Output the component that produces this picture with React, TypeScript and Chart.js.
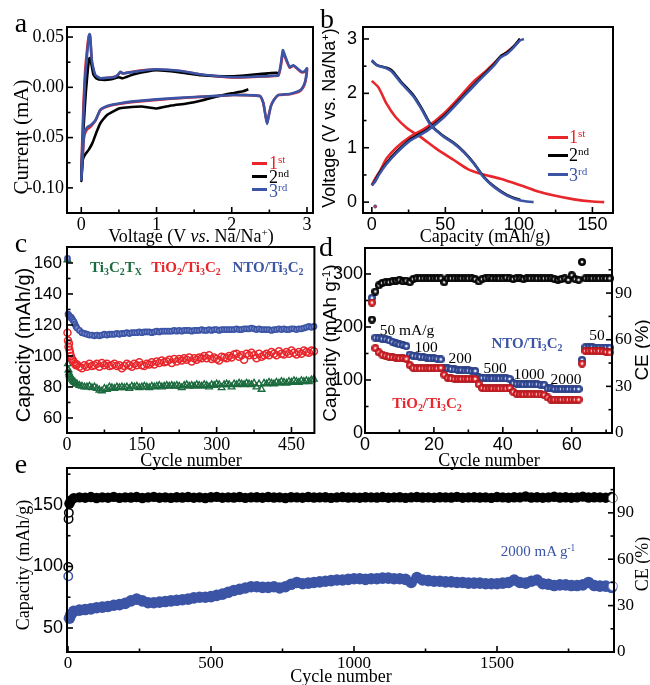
import React, { useEffect, useRef } from 'react';
import { Chart, registerables } from 'chart.js';
Chart.register(...registerables);

const SERIF = '"Liberation Serif", "Times New Roman", Times, serif';
const SANS = '"Liberation Sans", Arial, Helvetica, sans-serif';
const RED = '#e8262b';
const BLUE = '#3b54a5';
const BLACK = '#000000';
const GREEN = '#1b6b3e';

// ---------- panel a : CV ----------
const A_V = [0, 0.01, 0.03, 0.05, 0.08, 0.10, 0.11, 0.12, 0.14, 0.17, 0.19, 0.25, 0.35, 0.43, 0.48, 0.52, 0.55, 0.58, 0.7, 0.85, 1.0, 1.15, 1.3, 1.45, 1.58, 1.75, 1.9, 2.02, 2.2, 2.35, 2.47, 2.56, 2.62, 2.65, 2.68, 2.71, 2.73, 2.77, 2.82, 2.87, 2.93, 2.97, 3.0, 2.98, 2.95, 2.91, 2.85, 2.77, 2.7, 2.62, 2.56, 2.52, 2.49, 2.47, 2.45, 2.42, 2.38, 2.3, 2.2, 2.02, 1.8, 1.58, 1.3, 1.0, 0.7, 0.5, 0.39, 0.3, 0.25, 0.19, 0.15, 0.12, 0.09, 0.066, 0.04, 0.03, 0.01, 0];
const A3_I = [-0.093, -0.065, -0.025, 0.008, 0.035, 0.050, 0.053, 0.050, 0.027, 0.016, 0.012, 0.009, 0.0095, 0.010, 0.012, 0.0155, 0.014, 0.014, 0.0155, 0.017, 0.018, 0.0175, 0.0165, 0.0148, 0.013, 0.0115, 0.0105, 0.010, 0.0102, 0.0108, 0.011, 0.0115, 0.012, 0.022, 0.037, 0.031, 0.027, 0.020, 0.022, 0.019, 0.0155, 0.016, 0.019, 0.007, 0.001, -0.003, -0.005, -0.0066, -0.007, -0.0076, -0.0126, -0.019, -0.029, -0.0364, -0.029, -0.016, -0.009, -0.008, -0.0078, -0.0076, -0.0085, -0.0093, -0.0105, -0.012, -0.014, -0.016, -0.0175, -0.02, -0.0225, -0.0325, -0.036, -0.038, -0.039, -0.041, -0.046, -0.053, -0.079, -0.093];
const A1_I = [-0.093, -0.06, -0.015, 0.015, 0.04, 0.051, 0.052, 0.048, 0.025, 0.015, 0.011, 0.0088, 0.0095, 0.0102, 0.0118, 0.015, 0.0138, 0.0142, 0.0158, 0.0172, 0.0178, 0.0172, 0.0162, 0.0145, 0.0128, 0.0113, 0.0104, 0.0099, 0.0101, 0.0106, 0.0109, 0.0113, 0.0118, 0.02, 0.034, 0.03, 0.026, 0.0195, 0.0215, 0.0185, 0.015, 0.0155, 0.018, 0.006, 0.0, -0.0035, -0.0055, -0.0068, -0.0072, -0.0078, -0.0125, -0.0185, -0.0285, -0.0355, -0.0285, -0.0155, -0.0088, -0.008, -0.0078, -0.0077, -0.0087, -0.0095, -0.0108, -0.0125, -0.0145, -0.0165, -0.018, -0.0205, -0.023, -0.033, -0.037, -0.0395, -0.041, -0.043, -0.048, -0.055, -0.08, -0.093];
const A2_V = [2.22, 2.15, 2.0, 1.8, 1.6, 1.4, 1.2, 1.0, 0.9, 0.8, 0.6, 0.5, 0.4, 0.35, 0.3, 0.25, 0.2, 0.15, 0.1, 0.05, 0.02, 0.0, 0.01, 0.03, 0.06, 0.09, 0.11, 0.13, 0.16, 0.2, 0.28, 0.4, 0.5, 0.55, 0.7, 1.0, 1.3, 1.6, 2.0, 2.2, 2.4, 2.5, 2.6, 2.63];
const A2_I = [-0.002, -0.004, -0.006, -0.009, -0.013, -0.016, -0.018, -0.021, -0.020, -0.019, -0.020, -0.021, -0.025, -0.027, -0.031, -0.036, -0.045, -0.055, -0.062, -0.067, -0.072, -0.093, -0.07, -0.04, -0.005, 0.02, 0.029, 0.025, 0.013, 0.009, 0.0075, 0.008, 0.01, 0.009, 0.013, 0.017, 0.015, 0.012, 0.011, 0.012, 0.0135, 0.014, 0.0145, 0.013];

// ---------- panel b : charge / discharge ----------
const B1D_X = [0, 4.5, 10, 16, 24, 33, 44, 56, 65, 74, 87.5, 101, 112.5, 124, 137.5, 150, 158];
const B1D_Y = [2.23, 2.11, 1.81, 1.57, 1.36, 1.2, 0.98, 0.77, 0.61, 0.52, 0.43, 0.31, 0.2, 0.12, 0.05, 0.01, 0.0];
const B1C_X = [0, 2, 5.7, 10, 17, 26, 37.5, 49, 60, 69, 78.4, 87.5, 96.6, 101];
const B1C_Y = [0.31, 0.42, 0.58, 0.8, 1.01, 1.2, 1.38, 1.63, 1.94, 2.21, 2.43, 2.67, 2.86, 3.0];
const B2C_X = [0, 2, 5, 10, 17, 26, 37.5, 49, 60, 71.6, 83, 87.5, 92, 96.6, 100.7];
const B2C_Y = [0.31, 0.38, 0.53, 0.72, 0.93, 1.15, 1.33, 1.58, 1.89, 2.22, 2.53, 2.68, 2.75, 2.87, 3.0];
const B3C_X = [0, 2, 5, 10, 17, 26, 37.5, 49, 60, 71.6, 83, 87.5, 92, 96.6, 100.7, 103.4];
const B3C_Y = [0.31, 0.37, 0.51, 0.7, 0.91, 1.13, 1.31, 1.56, 1.87, 2.2, 2.51, 2.66, 2.73, 2.85, 2.97, 3.0];
const B2D_X = [0, 3.4, 10, 13.6, 19.3, 28.4, 34, 40.5, 49, 55.7, 62.5, 69.3, 76, 83, 92, 101];
const B2D_Y = [2.6, 2.52, 2.47, 2.42, 2.23, 1.96, 1.72, 1.41, 1.21, 1.09, 0.93, 0.72, 0.47, 0.29, 0.13, 0.04];
const B3D_X = [0, 3.4, 10, 13.6, 19.3, 28.4, 34, 40.5, 49, 55.7, 62.5, 69.3, 76, 83, 92, 101, 110];
const B3D_Y = [2.61, 2.52, 2.46, 2.4, 2.21, 1.94, 1.7, 1.4, 1.2, 1.08, 0.92, 0.71, 0.46, 0.28, 0.12, 0.03, 0.0];

// ---------- panel c : cycling at one rate ----------
const C_X = [1, 2, 3, 4, 5, 6, 8, 10, 12, 14, 16, 18, 20, 25, 30, 35, 40, 45, 50, 55, 60, 65, 70, 75, 80, 85, 90, 95, 100, 105, 110, 115, 120, 125, 130, 135, 140, 145, 150, 155, 160, 165, 170, 175, 180, 185, 190, 195, 200, 205, 210, 215, 220, 225, 230, 235, 240, 245, 250, 255, 260, 265, 270, 275, 280, 285, 290, 295, 300, 305, 310, 315, 320, 325, 330, 335, 340, 345, 350, 355, 360, 365, 370, 375, 380, 385, 390, 395, 400, 405, 410, 415, 420, 425, 430, 435, 440, 445, 450, 455, 460, 465, 470, 475, 480, 485, 490, 495];
const C_NTO = [163, 127, 126.5, 126, 125.5, 125, 125, 124, 123, 122, 120.5, 119, 118,
  116.5, 115, 114.5, 114, 113.5, 113.5, 113, 113.5, 113, 113.5, 114, 113.5, 114, 114, 114, 114.5,
  114, 114.5, 114.5, 115, 114.5, 115, 115, 115, 115.5, 115, 115.5, 115.5, 115.5, 115, 115.5, 116, 115.5, 116, 116, 116,
  116, 116, 116.5, 116, 116.5, 116, 116.5, 116.5, 116.5, 116, 116.5, 116.5, 116.5, 117, 116.5, 116.5, 117, 116.5, 117, 117,
  116.5, 117, 117, 117, 117, 117, 117, 117.5, 117, 117, 117.5, 117.5, 117.5, 118, 117.5, 117, 117.5, 117, 117, 117,
  117, 116.5, 117, 117, 117.5, 117, 117.5, 117, 117, 117.5, 117.5, 117, 117.5, 117.5, 118, 118.5, 119, 118.5, 119];
const C_TIO = [115, 110, 106, 108, 104, 102, 100, 98, 97, 96, 95, 94, 94.5,
  93, 92, 94, 93, 95, 93.5, 94, 95, 93, 95.5, 94, 95, 93.5, 94, 95, 93.5,
  94, 92, 93.5, 95, 94, 93, 95, 94, 96, 94, 93.5, 95, 94.5, 96, 94.5, 96.5, 95.5, 97, 96, 96.5,
  97.5, 95.5, 98, 96.5, 98, 97, 98.5, 97.5, 99, 96.5, 98.5, 97.5, 99, 98.5, 100, 98.5, 100.5, 98, 99, 98,
  97, 99.5, 99, 98.5, 100, 99, 101, 101.5, 99.5, 100.5, 97.5, 101.5, 100.5, 102, 100.5, 98.5, 101.5, 99.5, 100.5, 101.5,
  100.5, 102.5, 101.5, 100.5, 103, 101.5, 101, 102.5, 101.5, 103.5, 102, 101, 102.5, 101.5, 103.5, 102.5, 102, 103.5, 103];
const C_TI3C2 = [162, 95, 91, 89, 88, 87, 86, 85, 84, 83.5, 83, 82, 82,
  81, 80.5, 80, 80, 80.5, 79.5, 80, 79, 78, 77.5, 79, 78.5, 80, 79.5, 79, 80,
  79.5, 80, 79.5, 80, 79, 80.5, 80, 80.5, 79.5, 80, 80.5, 80, 79.5, 80.5, 80, 80.5, 81, 80, 80.5, 81,
  80.5, 81, 80.5, 81, 80.5, 79.5, 81, 81.5, 80.5, 81, 80.5, 81.5, 81, 80.5, 81.5, 81, 80, 81.5, 81, 82,
  81.5, 79.5, 81.5, 82, 81.5, 80, 82, 81.5, 82.5, 82, 81.5, 82.5, 82, 81.5, 82.5, 80, 82, 78.5, 82.5, 82,
  83, 82.5, 82, 83, 82.5, 83.5, 83, 82.5, 83.5, 83, 84, 83.5, 83, 84, 83.5, 84, 83.5, 84.5, 85];

// ---------- panel d : rate capability ----------
const D_X = [2, 3, 4, 5, 6, 7, 8, 9, 10, 11, 12, 13, 14, 15, 16, 17, 18, 19, 20, 21, 22, 23, 24, 25, 26, 27, 28, 29, 30, 31, 32, 33, 34, 35, 36, 37, 38, 39, 40, 41, 42, 43, 44, 45, 46, 47, 48, 49, 50, 51, 52, 53, 54, 55, 56, 57, 58, 59, 60, 61, 62, 63, 64, 65, 66, 67, 68, 69, 70, 71];
const D_NTO = [255, 180, 179, 178, 177, 175, 172, 169, 167, 166, 164, 148, 146, 145, 144, 143, 142, 141, 141, 140, 139, 123, 122, 121, 120, 119, 119, 118, 118, 117, 117, 105, 104, 104, 103, 103, 103, 103, 103, 103, 102, 94, 93, 93, 92, 92, 92, 92, 92, 91, 91, 84, 84, 83, 83, 83, 83, 83, 83, 83, 83, 138, 162, 162, 162, 161, 161, 161, 161, 161];
const D_TIO = [246, 160, 152, 148, 146, 144, 143, 142, 141, 141, 140, 128, 123, 122, 122, 122, 122, 122, 122, 122, 123, 110, 104, 103, 102, 102, 102, 102, 102, 102, 102, 92, 85, 84, 84, 84, 84, 84, 84, 84, 85, 78, 74, 73, 73, 73, 73, 73, 73, 73, 72, 67, 63, 63, 63, 63, 63, 63, 63, 63, 63, 131, 155, 155, 155, 155, 155, 154, 153, 152];
const D_CE = [73, 91, 95, 96.5, 97, 97, 97.5, 98, 98.5, 97.5, 98, 97, 99, 99.5, 99.5, 99.5, 99.5, 99.5, 99.5, 99.5, 99.5, 97, 99.5, 99.5, 99.5, 99.5, 99.5, 99.5, 99.5, 99.5, 99, 97.5, 99, 99.5, 100, 99.5, 99.5, 99.5, 99.5, 100, 99.5, 99, 99.5, 99.5, 99, 99.5, 99.5, 99.5, 99.5, 99.5, 99.5, 99.5, 99.5, 99, 98.5, 99, 99.5, 98.5, 101.5, 99, 98.5, 110, 99.5, 99.5, 99.5, 99.5, 99.5, 99.5, 99.5, 99.5];
const D_RATE_LABELS = ['50 mA/g', '100', '200', '500', '1000', '2000', '50'];

// ---------- panel e : long cycling ----------
const E_X = [5, 10, 20, 40, 60, 80, 100, 120, 140, 160, 180, 200, 220, 240, 260, 280, 300, 320, 340, 360, 380, 400, 420, 440, 460, 480, 500, 520, 540, 560, 580, 600, 620, 640, 660, 680, 700, 720, 740, 760, 780, 800, 820, 840, 860, 880, 900, 920, 940, 960, 980, 1000, 1020, 1040, 1060, 1080, 1100, 1120, 1140, 1160, 1180, 1200, 1220, 1240, 1260, 1280, 1300, 1320, 1340, 1360, 1380, 1400, 1420, 1440, 1460, 1480, 1500, 1520, 1540, 1560, 1580, 1600, 1620, 1640, 1660, 1680, 1700, 1720, 1740, 1760, 1780, 1800, 1820, 1840, 1860, 1880, 1900];
const E_CAP = [58, 61,
  63.5, 64.5, 65, 65.5, 66.5, 67, 67.5, 68.5, 69, 70,
  72, 73.5, 72, 70.5, 70.5, 71, 71.5, 72, 72.5, 73,
  73.5, 74.5, 75, 75, 75.5, 76.5, 77.5, 79, 80.5, 81.5,
  82.5, 83.5, 83.5, 83, 83, 83.5, 82.5, 83.5, 85.5, 87,
  86, 86.5, 87, 87.5, 88, 88.5, 89, 89, 89.5, 90,
  90, 89.5, 90, 90, 90.5, 90.5, 90, 90, 89.5, 87,
  91, 89, 88.5, 88, 88, 87.5, 87.5, 87, 87, 86.5,
  86.5, 86.5, 86, 86, 86, 86.5, 87, 89, 87, 86.5,
  88, 89, 86, 85.5, 84.5, 85, 85, 84.5, 84.5, 85,
  87, 84.5, 84, 84, 83];
const E_CE = [96, 98,
  99.5, 100, 99.8, 100.2, 99.6, 100, 99.8, 100.3, 99.7, 100,
  99.9, 100.2, 99.6, 100, 100.3, 99.8, 100, 99.7, 100.1, 99.9,
  100.2, 99.8, 100, 99.6, 100.1, 100.3, 99.8, 100, 99.9, 100.2,
  99.7, 100, 100.1, 99.8, 100.2, 99.9, 100, 99.6, 100.1, 100,
  99.8, 100.2, 99.9, 100, 100.1, 99.7, 100, 100.2, 99.9, 100,
  99.8, 100.1, 100, 99.9, 100.2, 99.8, 100, 100.1, 99.7, 100,
  100.2, 99.9, 100, 99.8, 100.1, 100, 99.9, 100.3, 99.8, 100,
  100.1, 99.9, 100, 99.7, 100.2, 100, 99.8, 100.1, 100, 100.6,
  99.9, 100.1, 99.8, 100, 100.4, 99.9, 100.1, 99.8, 100, 100.5,
  99.9, 100.1, 100, 99.8, 100.2];
const E_FIRST_CAP_X = [1];
const E_FIRST_CAP = [92];
const E_FIRST_CE_X = [1, 2, 3];
const E_FIRST_CE = [55, 86, 90];
const E_LAST_X = [1905];
const E_LAST_CAP = [84];
const E_LAST_CE = [99.5];

// ---------- helpers ----------
type Ax = {
  id: string; pos: 'left' | 'right' | 'bottom'; min: number; max: number;
  major: number[]; labels: string[]; minor: number[]; family: string; size: number; thick: number; pad?: number;
};

const zip = (xs: number[], ys: number[]) => xs.map((x, i) => ({ x, y: ys[i] }));

function framePlugin(axes: Ax[]) {
  return {
    id: 'frame',
    afterDatasetsDraw(chart: any) {
      const { ctx, chartArea: a } = chart;
      ctx.save();
      ctx.strokeStyle = '#000';
      ctx.lineWidth = 2;
      ctx.strokeRect(a.left, a.top, a.right - a.left, a.bottom - a.top);
      ctx.lineWidth = 1.6;
      for (const ax of axes) {
        const s = chart.scales[ax.id];
        const draw = (v: number, len: number) => {
          const p = s.getPixelForValue(v);
          ctx.beginPath();
          if (ax.pos === 'bottom') { ctx.moveTo(p, a.bottom); ctx.lineTo(p, a.bottom - len); }
          else if (ax.pos === 'left') { ctx.moveTo(a.left, p); ctx.lineTo(a.left + len, p); }
          else { ctx.moveTo(a.right, p); ctx.lineTo(a.right - len, p); }
          ctx.stroke();
        };
        ax.major.forEach((v) => draw(v, 6));
        ax.minor.forEach((v) => draw(v, 3.5));
      }
      ctx.restore();
    },
  };
}

function build(canvas: HTMLCanvasElement, pad: any, axes: Ax[], datasets: any[]) {
  const scales: any = {};
  for (const ax of axes) {
    scales[ax.id] = {
      type: 'linear', position: ax.pos, min: ax.min, max: ax.max,
      grid: { display: false, drawTicks: false },
      border: { display: false },
      ticks: {
        color: '#000', font: { family: ax.family, size: ax.size }, padding: ax.pad ?? 3,
        autoSkip: false, maxRotation: 0, minRotation: 0,
        callback: (_v: any, i: number) => ax.labels[i],
      },
      afterBuildTicks: (s: any) => { s.ticks = ax.major.map((v) => ({ value: v })); },
      afterFit: (s: any) => { if (ax.pos === 'bottom') s.height = ax.thick; else s.width = ax.thick; },
    };
  }
  return new Chart(canvas, {
    type: 'scatter',
    data: { datasets },
    options: {
      responsive: false, animation: false, devicePixelRatio: 1, events: [],
      layout: { padding: pad },
      plugins: { legend: { display: false }, tooltip: { enabled: false } },
      scales,
    } as any,
    plugins: [framePlugin(axes) as any],
  });
}

const lineDs = (xs: number[], ys: number[], color: string, order: number, tension = 0.2, width = 2.6) => ({
  data: zip(xs, ys), showLine: true, borderColor: color, backgroundColor: color, borderWidth: width,
  pointRadius: 0, tension, order, xAxisID: 'x', yAxisID: 'y',
});

function ball(color: string, dark: string, d: number) {
  const c = document.createElement('canvas');
  c.width = d; c.height = d;
  const g = c.getContext('2d')!;
  const r = d / 2;
  const grad = g.createRadialGradient(r, r, 0, r, r, r);
  grad.addColorStop(0, '#ffffff');
  grad.addColorStop(0.15, '#ffffff');
  grad.addColorStop(0.45, color);
  grad.addColorStop(1, dark);
  g.fillStyle = grad;
  g.beginPath(); g.arc(r, r, r, 0, Math.PI * 2); g.fill();
  return c;
}

// ---------- chart makers ----------
function makeA(cv: HTMLCanvasElement) {
  const axes: Ax[] = [
    { id: 'x', pos: 'bottom', min: -0.19, max: 3.08, major: [0, 1, 2, 3], labels: ['0', '1', '2', '3'], minor: [0.5, 1.5, 2.5], family: SERIF, size: 18, thick: 27, pad: 1 },
    { id: 'y', pos: 'left', min: -0.125, max: 0.06, major: [-0.1, -0.05, 0, 0.05], labels: ['-0.10', '-0.05', '0.00', '0.05'], minor: [-0.075, -0.025, 0.025], family: SERIF, size: 18, thick: 67, pad: 3 },
  ];
  return build(cv, { left: 0, top: 27, right: 7, bottom: 0 }, axes, [
    lineDs(A_V, A1_I, RED, 2, 0.15),
    lineDs(A2_V, A2_I, BLACK, 1, 0.15),
    lineDs(A_V, A3_I, BLUE, 0, 0.15),
  ]);
}

function makeB(cv: HTMLCanvasElement) {
  const axes: Ax[] = [
    { id: 'x', pos: 'bottom', min: -6, max: 164, major: [0, 50, 100, 150], labels: ['0', '50', '100', '150'], minor: [25, 75, 125], family: SANS, size: 18, thick: 27, pad: 1 },
    { id: 'y', pos: 'left', min: -0.2, max: 3.22, major: [0, 1, 2, 3], labels: ['0', '1', '2', '3'], minor: [0.5, 1.5, 2.5], family: SANS, size: 18, thick: 43, pad: 6 },
  ];
  return build(cv, { left: 0, top: 27, right: 37, bottom: 0 }, axes, [
    lineDs(B1D_X, B1D_Y, RED, 3, 0.25),
    lineDs(B1C_X, B1C_Y, RED, 3, 0.25),
    lineDs(B2D_X, B2D_Y, BLACK, 2, 0.25),
    lineDs(B2C_X, B2C_Y, BLACK, 2, 0.25),
    lineDs(B3D_X, B3D_Y, BLUE, 1, 0.25),
    lineDs(B3C_X, B3C_Y, BLUE, 1, 0.25),
    { data: [{ x: 2.3, y: -0.08 }], pointRadius: 1.6, backgroundColor: RED, borderColor: BLUE, borderWidth: 0.8, xAxisID: 'x', yAxisID: 'y', order: 0 },
  ]);
}

function makeC(cv: HTMLCanvasElement) {
  const axes: Ax[] = [
    { id: 'x', pos: 'bottom', min: 0, max: 496, major: [0, 150, 300, 450], labels: ['0', '150', '300', '450'], minor: [75, 225, 375], family: SERIF, size: 18, thick: 32, pad: 1 },
    { id: 'y', pos: 'left', min: 50.3, max: 170.3, major: [60, 80, 100, 120, 140, 160], labels: ['60', '80', '100', '120', '140', '160'], minor: [70, 90, 110, 130, 150], family: SANS, size: 17, thick: 67, pad: 5 },
  ];
  const mk = (ys: number[], color: string, style: string, r: number, bw: number, bg: string) => ({
    data: zip(C_X, ys), pointStyle: style, pointRadius: r, borderWidth: bw, borderColor: color,
    backgroundColor: bg, showLine: false, clip: false, xAxisID: 'x', yAxisID: 'y',
  });
  return build(cv, { left: 0, top: 27, right: 4, bottom: 0 }, axes, [
    mk(C_NTO, BLUE, 'circle', 2.6, 1.6, '#8796d2'),
    mk(C_TIO, RED, 'circle', 3.5, 1.5, 'rgba(255,255,255,0)'),
    mk(C_TI3C2, GREEN, 'triangle', 3.8, 1.4, 'rgba(255,255,255,0)'),
  ]);
}

function makeD(cv: HTMLCanvasElement) {
  const axes: Ax[] = [
    { id: 'x', pos: 'bottom', min: 0, max: 71.7, major: [0, 20, 40, 60], labels: ['0', '20', '40', '60'], minor: [10, 30, 50, 70], family: SANS, size: 18, thick: 32, pad: 1 },
    { id: 'y', pos: 'left', min: 0, max: 349, major: [0, 100, 200, 300], labels: ['0', '100', '200', '300'], minor: [50, 150, 250], family: SANS, size: 18, thick: 45, pad: 2 },
    { id: 'y1', pos: 'right', min: 0, max: 119, major: [0, 30, 60, 90], labels: ['0', '30', '60', '90'], minor: [15, 45, 75, 105], family: SERIF, size: 17, thick: 38, pad: 3 },
  ];
  const bBlue = ball(BLUE, '#23367a', 8);
  const bRed = ball(RED, '#a0141a', 8);
  const bBlack = ball('#111111', '#000000', 8);
  const mk = (ys: number[], img: any, y: string, order: number) => ({
    data: zip(D_X, ys), pointStyle: img, pointRadius: 4, showLine: false, clip: false,
    xAxisID: 'x', yAxisID: y, order,
  });
  return build(cv, { left: 0, top: 28, right: 0, bottom: 0 }, axes, [
    mk(D_CE, bBlack, 'y1', 0),
    mk(D_TIO, bRed, 'y', 1),
    mk(D_NTO, bBlue, 'y', 2),
  ]);
}

function makeE(cv: HTMLCanvasElement) {
  const axes: Ax[] = [
    { id: 'x', pos: 'bottom', min: -3.5, max: 1909, major: [0, 500, 1000, 1500], labels: ['0', '500', '1000', '1500'], minor: [250, 750, 1250, 1750], family: SERIF, size: 17, thick: 33, pad: 1 },
    { id: 'y', pos: 'left', min: 30.5, max: 180, major: [50, 100, 150], labels: ['50', '100', '150'], minor: [75, 125, 175], family: SANS, size: 18, thick: 67, pad: 4 },
    { id: 'y1', pos: 'right', min: 0, max: 119, major: [0, 30, 60, 90], labels: ['0', '30', '60', '90'], minor: [15, 45, 75, 105], family: SERIF, size: 17, thick: 36, pad: 3 },
  ];
  return build(cv, { left: 0, top: 18, right: 0, bottom: 0 }, axes, [
    { data: zip(E_LAST_X, E_LAST_CE), pointRadius: 4.5, borderWidth: 1, borderColor: '#666', backgroundColor: '#fff', clip: false, xAxisID: 'x', yAxisID: 'y1', order: 0 },
    { data: zip(E_LAST_X, E_LAST_CAP), pointRadius: 4.5, borderWidth: 1, borderColor: '#6d7fbf', backgroundColor: '#fff', clip: false, xAxisID: 'x', yAxisID: 'y', order: 0 },
    { data: zip(E_FIRST_CE_X, E_FIRST_CE), pointRadius: 4.2, borderWidth: 1.5, borderColor: BLACK, backgroundColor: '#fff', clip: false, xAxisID: 'x', yAxisID: 'y1', order: 1 },
    { data: zip(E_FIRST_CAP_X, E_FIRST_CAP), pointRadius: 4.2, borderWidth: 1.5, borderColor: BLUE, backgroundColor: '#fff', clip: false, xAxisID: 'x', yAxisID: 'y', order: 1 },
    { data: zip(E_X, E_CE), pointRadius: 5.2, borderWidth: 0, backgroundColor: BLACK, clip: false, xAxisID: 'x', yAxisID: 'y1', order: 2 },
    { data: zip(E_X, E_CAP), pointRadius: 5.8, borderWidth: 0, backgroundColor: BLUE, clip: false, xAxisID: 'x', yAxisID: 'y', order: 2 },
  ]);
}

// ---------- components ----------
function ChartBox({ left, top, w, h, make }: { left: number; top: number; w: number; h: number; make: (c: HTMLCanvasElement) => Chart }) {
  const ref = useRef<HTMLCanvasElement>(null);
  useEffect(() => {
    const c = make(ref.current!);
    return () => c.destroy();
  }, []);
  return <canvas ref={ref} width={w} height={h} style={{ position: 'absolute', left, top, width: w, height: h }} />;
}

const Sub = ({ children }: any) => <span style={{ fontSize: '0.66em', position: 'relative', top: '0.3em' }}>{children}</span>;
const Sup = ({ children }: any) => <span style={{ fontSize: '0.62em', position: 'relative', top: '-0.55em' }}>{children}</span>;

function T({ x, y, size = 18, font = SERIF, color = '#000', rot = false, left = false, bold = false, children }: any) {
  const tr = (left ? 'translate(0,-50%)' : 'translate(-50%,-50%)') + (rot ? ' rotate(-90deg)' : '');
  return (
    <div style={{ position: 'absolute', left: x, top: y, transform: tr, fontFamily: font, fontSize: size, color, fontWeight: bold ? 700 : 400, whiteSpace: 'nowrap', lineHeight: 1 }}>
      {children}
    </div>
  );
}

const LegLine = ({ x, y, w, color }: any) => (
  <div style={{ position: 'absolute', left: x, top: y - 1.5, width: w, height: 3, background: color }} />
);

export default function App() {
  return (
    <div style={{ position: 'absolute', left: 0, top: 0, width: 650, height: 685, background: '#fff', overflow: 'hidden' }}>
      <ChartBox left={0} top={0} w={320} h={240} make={makeA} />
      <ChartBox left={320} top={0} w={330} h={240} make={makeB} />
      <ChartBox left={0} top={220} w={320} h={245} make={makeC} />
      <ChartBox left={320} top={220} w={330} h={245} make={makeD} />
      <ChartBox left={0} top={450} w={650} h={235} make={makeE} />

      {/* panel letters */}
      <T x={21} y={23} size={28}>a</T>
      <T x={327} y={19} size={28}>b</T>
      <T x={21} y={243} size={28}>c</T>
      <T x={326} y={247} size={28}>d</T>
      <T x={21} y={464} size={28}>e</T>

      {/* panel a */}
      <T x={21} y={137} size={21} rot>Current (mA)</T>
      <T x={191} y={236} size={18}>Voltage (V <i>vs</i>. Na/Na<Sup>+</Sup>)</T>
      <LegLine x={252} y={163} w={15} color={RED} />
      <LegLine x={252} y={176} w={15} color={BLACK} />
      <LegLine x={252} y={189} w={15} color={BLUE} />
      <T x={269} y={163} size={18} color={RED} left>1<Sup>st</Sup></T>
      <T x={269} y={177} size={18} color={BLACK} left>2<Sup>nd</Sup></T>
      <T x={269} y={191} size={18} color={BLUE} left>3<Sup>rd</Sup></T>

      {/* panel b */}
      <T x={329} y={118} size={18} font={SANS} rot>Voltage (V vs. Na/Na<Sup>+</Sup>)</T>
      <T x={485} y={236} size={18}>Capacity (mAh/g)</T>
      <LegLine x={548} y={137} w={20} color={RED} />
      <LegLine x={548} y={155} w={20} color={BLACK} />
      <LegLine x={548} y={174} w={20} color={BLUE} />
      <T x={569} y={137} size={18} color={RED} left>1<Sup>st</Sup></T>
      <T x={569} y={155} size={18} color={BLACK} left>2<Sup>nd</Sup></T>
      <T x={569} y={175} size={18} color={BLUE} left>3<Sup>rd</Sup></T>

      {/* panel c */}
      <T x={23} y={345} size={20} font={SANS} rot>Capacity (mAh/g)</T>
      <T x={191} y={460} size={18}>Cycle number</T>
      <T x={116} y={267} size={15} color={GREEN} bold>Ti<Sub>3</Sub>C<Sub>2</Sub>T<Sub>X</Sub></T>
      <T x={186} y={267} size={15} color={RED} bold>TiO<Sub>2</Sub>/Ti<Sub>3</Sub>C<Sub>2</Sub></T>
      <T x={268} y={267} size={15} color={BLUE} bold>NTO/Ti<Sub>3</Sub>C<Sub>2</Sub></T>

      {/* panel d */}
      <T x={329} y={343} size={19} font={SANS} rot>Capacity (mAh g<Sup>-1</Sup>)</T>
      <T x={641} y={350} size={19} font={SANS} rot>CE (%)</T>
      <T x={489} y={460} size={18}>Cycle number</T>
      <T x={407} y={330} size={15.5}>{D_RATE_LABELS[0]}</T>
      <T x={426} y={347} size={15.5}>{D_RATE_LABELS[1]}</T>
      <T x={460} y={358} size={15.5}>{D_RATE_LABELS[2]}</T>
      <T x={495} y={368} size={15.5}>{D_RATE_LABELS[3]}</T>
      <T x={529} y={374} size={15.5}>{D_RATE_LABELS[4]}</T>
      <T x={566} y={379} size={15.5}>{D_RATE_LABELS[5]}</T>
      <T x={597} y={335} size={15.5}>{D_RATE_LABELS[6]}</T>
      <T x={527} y={343} size={15} color={BLUE} bold>NTO/Ti<Sub>3</Sub>C<Sub>2</Sub></T>
      <T x={427} y={403} size={15} color={RED} bold>TiO<Sub>2</Sub>/Ti<Sub>3</Sub>C<Sub>2</Sub></T>

      {/* panel e */}
      <T x={23} y={565} size={18} rot>Capacity (mAh/g)</T>
      <T x={642} y={564} size={18} rot>CE (%)</T>
      <T x={341} y={676} size={18}>Cycle number</T>
      <T x={538} y={551} size={15} color={BLUE}>2000 mA g<Sup>-1</Sup></T>
    </div>
  );
}
